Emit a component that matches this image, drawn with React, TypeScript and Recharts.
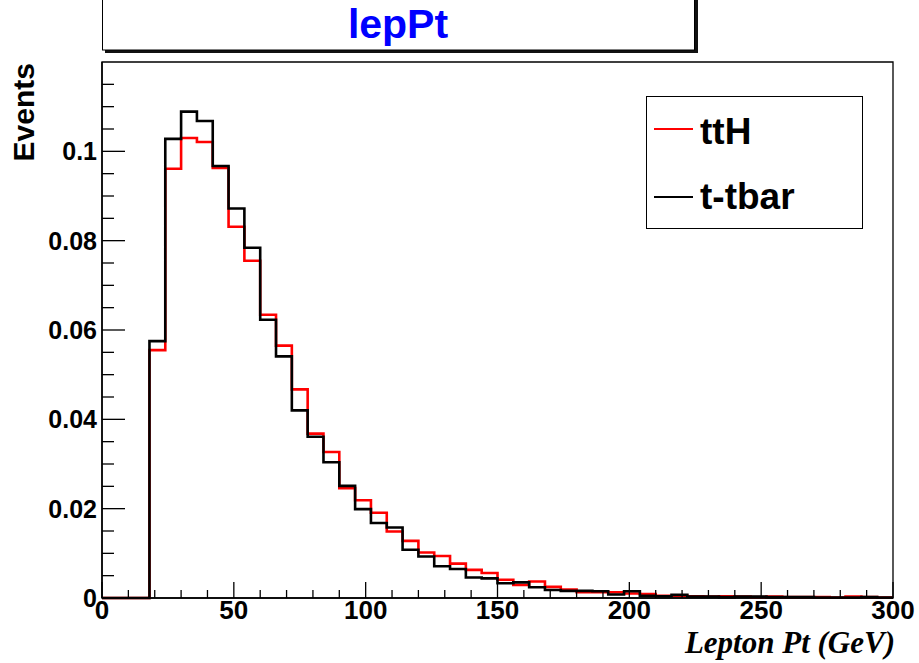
import React from 'react';
import { LineChart, Line, XAxis, YAxis, ReferenceArea } from 'recharts';

// lower edges of the 6 GeV bins
const binEdges = [
  0, 6, 12, 18, 24, 30, 36, 42, 48, 54, 60, 66, 72, 78, 84, 90, 96, 102, 108, 114,
  120, 126, 132, 138, 144, 150, 156, 162, 168, 174, 180, 186, 192, 198, 204, 210,
  216, 222, 228, 234, 240, 246, 252, 258, 264, 270, 276, 282, 288, 294,
];

const ttH = [
  0, 0, 0, 0.0555, 0.0961, 0.103, 0.1021, 0.0963, 0.0831, 0.0755, 0.0634, 0.0565,
  0.0467, 0.0368, 0.0327, 0.0246, 0.0219, 0.0191, 0.0149, 0.0128, 0.0102, 0.0094,
  0.0077, 0.0063, 0.0056, 0.0041, 0.0029, 0.0037, 0.0025, 0.0019, 0.0013, 0.0013,
  0.0013, 0.001, 0.0009, 0.0005, 0.0005, 0.0004, 0.0003, 0.0004, 0.0003, 0.0002,
  0.0003, 0.0002, 0.0002, 0.0002, 0.0001, 0.0003, 0.0002, 0.0001,
];

const ttbar = [
  0, 0, 0, 0.0575, 0.1028, 0.1089, 0.1068, 0.0967, 0.0872, 0.0784, 0.0623, 0.0541,
  0.042, 0.0361, 0.0304, 0.0251, 0.0199, 0.0168, 0.0158, 0.0108, 0.0093, 0.0071,
  0.0065, 0.0046, 0.0044, 0.0033, 0.0035, 0.0024, 0.0018, 0.0016, 0.0016, 0.0015,
  0.0008, 0.0015, 0.0005, 0.0004, 0.0007, 0.0003, 0.0003, 0.0002, 0.0003, 0.0003,
  0.0002, 0.0002, 0.0002, 0.0001, 0.0001, 0.0001, 0.0002, 0.0001,
];

const xTicks = [
  0, 10, 20, 30, 40, 50, 60, 70, 80, 90, 100, 110, 120, 130, 140, 150, 160, 170,
  180, 190, 200, 210, 220, 230, 240, 250, 260, 270, 280, 290, 300,
];

const yTicks = [
  0, 0.005, 0.01, 0.015, 0.02, 0.025, 0.03, 0.035, 0.04, 0.045, 0.05, 0.055, 0.06,
  0.065, 0.07, 0.075, 0.08, 0.085, 0.09, 0.095, 0.1, 0.105, 0.11, 0.115,
];

const seriesNames = ['ttH', 't-tbar'];
const seriesColors = ['#ff0000', '#000000'];

const FONT = '"Liberation Sans", Arial, Helvetica, sans-serif';

// plot box in page pixels
const PLOT_LEFT = 102;
const PLOT_BOTTOM = 598;

// last bin closed at 300 so the step reaches the right edge
const data = binEdges
  .map((x, i) => ({ x, ttH: ttH[i], ttbar: ttbar[i] }))
  .concat([{ x: 300, ttH: ttH[ttH.length - 1], ttbar: ttbar[ttbar.length - 1] }]);

// ticks are drawn inward from the axis line, ROOT style
const renderXTick = (props: any) => {
  const { x, payload } = props;
  const y = PLOT_BOTTOM;
  const v = payload.value as number;
  const major = v % 50 === 0;
  return (
    <g key={`xt-${v}`}>
      <line x1={x} x2={x} y1={y} y2={y - (major ? 16 : 8)} stroke="#000" strokeWidth={1.3} />
      {major && (
        <text x={x} y={y + 21} textAnchor="middle" fontFamily={FONT} fontWeight="bold" fontSize={26} fill="#000">
          {v}
        </text>
      )}
    </g>
  );
};

const renderYTick = (props: any) => {
  const { y, payload } = props;
  const x = PLOT_LEFT;
  const v = payload.value as number;
  const major = Math.round(v * 1000) % 20 === 0;
  return (
    <g key={`yt-${v}`}>
      <line x1={x} x2={x + (major ? 23 : 12)} y1={y} y2={y} stroke="#000" strokeWidth={1.3} />
      {major && (
        <text x={x - 5} y={y + 9} textAnchor="end" fontFamily={FONT} fontWeight="bold" fontSize={25} fill="#000">
          {String(Number(v.toFixed(3)))}
        </text>
      )}
    </g>
  );
};

export default function App() {
  return (
    <div
      style={{
        position: 'absolute',
        left: 0,
        top: 0,
        width: 919,
        height: 663,
        overflow: 'hidden',
        background: '#fff',
      }}
    >
      <LineChart
        width={919}
        height={663}
        data={data}
        margin={{ top: 62, right: 26, bottom: 25, left: 22 }}
      >
        <XAxis
          dataKey="x"
          type="number"
          domain={[0, 300]}
          ticks={xTicks}
          interval={0}
          height={40}
          tickLine={false}
          axisLine={{ stroke: '#000', strokeWidth: 1.5 }}
          tick={renderXTick}
        />
        <YAxis
          type="number"
          domain={[0, 0.12]}
          ticks={yTicks}
          interval={0}
          width={80}
          tickLine={false}
          axisLine={{ stroke: '#000', strokeWidth: 1.5 }}
          tick={renderYTick}
        />
        <ReferenceArea x1={0} x2={300} y1={0} y2={0.12} fill="none" stroke="#000" strokeWidth={1.3} ifOverflow="visible" />
        <Line
          type="stepAfter"
          dataKey="ttH"
          stroke={seriesColors[0]}
          strokeWidth={2.6}
          dot={false}
          activeDot={false}
          isAnimationActive={false}
        />
        <Line
          type="stepAfter"
          dataKey="ttbar"
          stroke={seriesColors[1]}
          strokeWidth={2.6}
          dot={false}
          activeDot={false}
          isAnimationActive={false}
        />
      </LineChart>

      <svg width={919} height={663} style={{ position: 'absolute', left: 0, top: 0, pointerEvents: 'none' }}>
        {/* title box with shadow */}
        <rect x={105} y={-4} width={593} height={57} fill="#111" />
        <rect x={102.5} y={-4} width={592} height={54} fill="#fff" stroke="#000" strokeWidth={1} />
        <text x={398} y={38} textAnchor="middle" fontFamily={FONT} fontWeight="bold" fontSize={41} fill="#0000ff">
          lepPt
        </text>

        {/* legend */}
        <rect x={646.5} y={96.5} width={216} height={132} fill="#fff" stroke="#000" strokeWidth={1} />
        <line x1={654} x2={693} y1={129} y2={129} stroke={seriesColors[0]} strokeWidth={2.2} />
        <text x={700} y={144} fontFamily={FONT} fontWeight="bold" fontSize={37} fill="#000">
          {seriesNames[0]}
        </text>
        <line x1={654} x2={693} y1={197} y2={197} stroke={seriesColors[1]} strokeWidth={2.2} />
        <text x={700} y={209} fontFamily={FONT} fontWeight="bold" fontSize={37} fill="#000">
          {seriesNames[1]}
        </text>

        {/* axis titles */}
        <text
          transform="translate(34,63) rotate(-90)"
          textAnchor="end"
          fontFamily={FONT}
          fontWeight="bold"
          fontSize={30}
          fill="#000"
        >
          Events
        </text>
        <text
          x={895}
          y={653}
          textAnchor="end"
          fontFamily='"Liberation Serif", "Times New Roman", serif'
          fontWeight="bold"
          fontStyle="italic"
          fontSize={31}
          fill="#000"
        >
          Lepton Pt (GeV)
        </text>
      </svg>
    </div>
  );
}
